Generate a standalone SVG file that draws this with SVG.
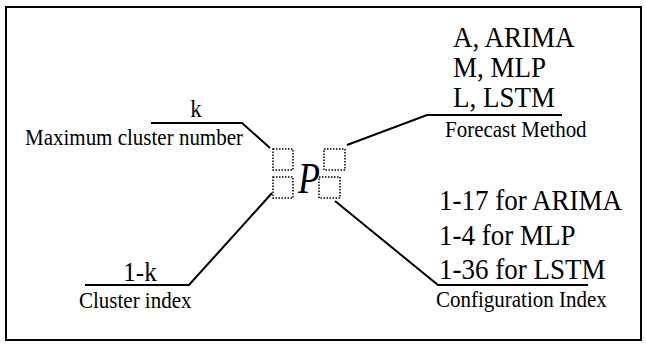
<svg xmlns="http://www.w3.org/2000/svg" width="646" height="345" viewBox="0 0 646 345">
<style>
text{font-family:"Liberation Serif","Times New Roman",serif;fill:#000}
.big{font-size:27px}
.lbl{font-size:21px}
.line{fill:none;stroke:#000;stroke-width:2}
.box{fill:none;stroke:#000;stroke-width:1.5;stroke-dasharray:1.5 1.5}
</style>
<rect x="6" y="7" width="635" height="333" fill="#fff" stroke="#000" stroke-width="2"/>
<g id="connectors">
<polyline class="line" points="151,123 242,123 270,148"/>
<polyline class="line" points="85,285 189,285 272,193"/>
<polyline class="line" points="347,145 427,115 562,115"/>
<polyline class="line" points="335,201 438,285 588,285"/>
</g>
<g id="P">
<rect class="box" x="273" y="149" width="20" height="21"/>
<rect class="box" x="273" y="177" width="20" height="21"/>
<rect class="box" x="324" y="149" width="21" height="21"/>
<rect class="box" x="319" y="177" width="21" height="21"/>
<text transform="translate(298,193) scale(0.9,1.1)" font-family="Liberation Serif, serif" font-style="italic" font-size="40">P</text>
</g>
<g id="max-cluster">
<text transform="translate(196,117) scale(1,1.1)" text-anchor="middle" font-family="Liberation Serif, serif" font-size="23">k</text>
<text class="lbl" transform="translate(25,145) scale(1,1.08)" font-family="Liberation Serif, serif">Maximum cluster number</text>
</g>
<g id="cluster-index">
<text transform="translate(140,281) scale(1,1.1)" text-anchor="middle" font-family="Liberation Serif, serif" font-size="25">1-k</text>
<text class="lbl" transform="translate(79,308) scale(1,1.08)" font-family="Liberation Serif, serif">Cluster index</text>
</g>
<g id="forecast-method">
<text class="big" transform="translate(453,47) scale(1,1.08)" font-family="Liberation Serif, serif">A, ARIMA</text>
<text class="big" transform="translate(453,77) scale(1,1.08)" font-family="Liberation Serif, serif">M, MLP</text>
<text class="big" transform="translate(453,107) scale(1,1.08)" font-family="Liberation Serif, serif">L, LSTM</text>
<text class="lbl" transform="translate(445,137) scale(1,1.05)" font-family="Liberation Serif, serif" font-size="22">Forecast Method</text>
</g>
<g id="config-index">
<text class="big" transform="translate(439,210) scale(1,1.12)" font-family="Liberation Serif, serif">1-17 for ARIMA</text>
<text class="big" transform="translate(439,245) scale(1,1.12)" font-family="Liberation Serif, serif">1-4 for MLP</text>
<text class="big" transform="translate(439,279) scale(1,1.12)" font-family="Liberation Serif, serif">1-36 for LSTM</text>
<text class="lbl" transform="translate(436,307) scale(1,1.08)" font-family="Liberation Serif, serif">Configuration Index</text>
</g>
</svg>
